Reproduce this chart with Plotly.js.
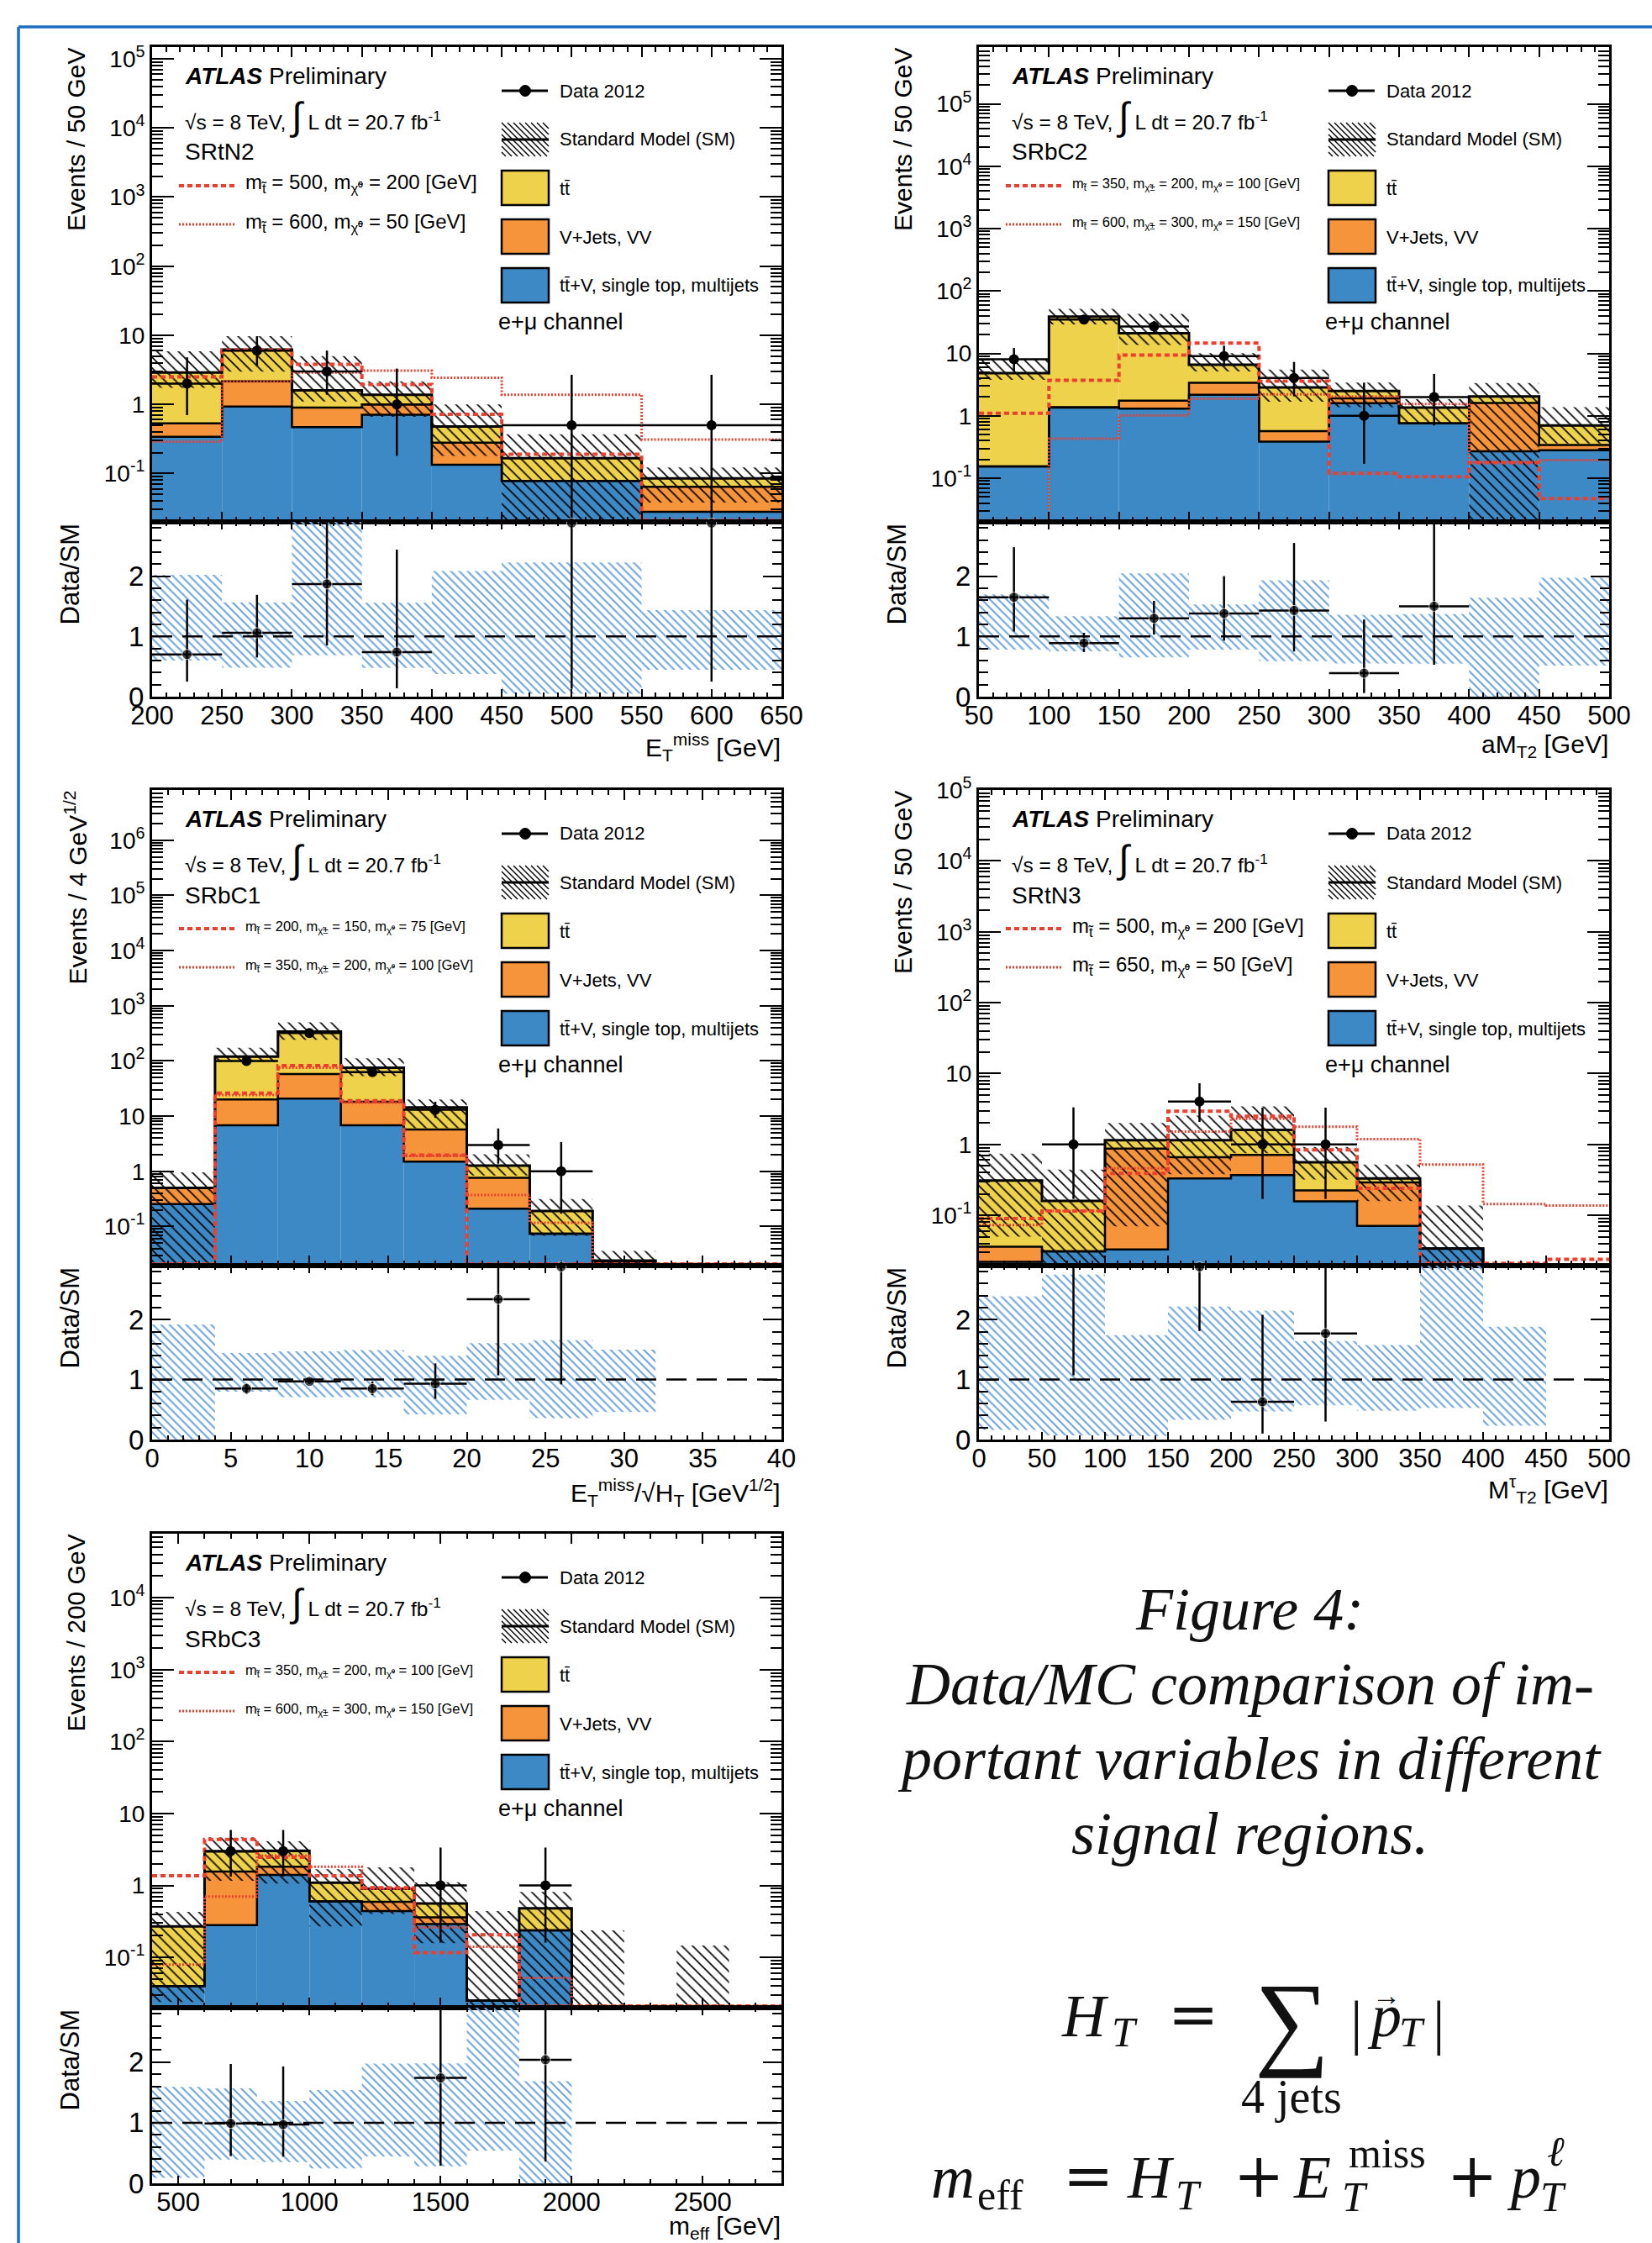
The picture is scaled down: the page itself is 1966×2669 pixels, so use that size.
<!DOCTYPE html>
<html><head><meta charset="utf-8">
<script src="https://cdn.plot.ly/plotly-3.0.1.min.js"></script>
<style>html,body{margin:0;padding:0;background:#fff}</style>
</head><body><div id="chart" style="width:1966px;height:2669px"></div>
<script>
// ---------------- DATA ----------------
const logTickVals=[0.1,1,10,100,1000,1e4,1e5,1e6];
const logTickText=['10<sup>-1</sup>','1','10','10<sup>2</sup>','10<sup>3</sup>','10<sup>4</sup>','10<sup>5</sup>','10<sup>6</sup>'];
const ratioTickVals=[0,1,2];
const ratioTickText=['0','1','2'];

// SRtN2 : ETmiss
const tn2_edges=[200,250,300,350,400,450,550,650];
const tn2_ttV=[0.34,0.93,0.47,0.71,0.134,0.078,0.028];
const tn2_vj=[0.19,1.23,0.43,0.29,0.146,0,0.036];
const tn2_tt=[2.37,4.04,0.70,0.38,0.20,0.088,0.021];
const tn2_smHi=[5.86,9.7,4.98,2.15,1.0,0.37,0.122];
const tn2_smLo=[1.74,2.98,1.10,0.66,0.18,0.008,0.038];
const tn2_sig1=[2.5,6.1,3.8,1.94,0.72,0.19,0.021];
const tn2_sig2=[0.29,2.16,2.9,3.08,2.43,1.38,0.31];
const tn2_dataX=[225,275,325,375,500,600];
const tn2_data=[2,6,3,1,0.5,0.5];
const tn2_dataHi=[4.8,9.7,6.0,3.3,2.68,2.68];
const tn2_dataLo=[0.70,3.6,1.38,0.18,0,0];
const tn2_ratio=[0.70,1.06,1.87,0.74,2.88,2.88];
const tn2_ratioHi=[1.61,1.69,2.9,2.44,2.9,2.9];
const tn2_ratioLo=[0.25,0.65,0.85,0.14,0.13,0.25];

// SRbC2 : aMT2
const bc2_edges=[50,100,150,200,250,300,350,400,450,500];
const bc2_ttV=[0.154,1.35,1.30,2.17,0.385,1.6,0.76,0.27,0.28];
const bc2_vj=[0,0.03,0.45,1.2,0.185,0.3,0,1.34,0.06];
const bc2_tt=[4.68,37.6,19.25,3.23,2.28,0.6,0.59,0.43,0.36];
const bc2_smHi=[8.2,52,43,10.1,5.5,3.4,1.85,3.35,1.38];
const bc2_smLo=[3.77,29.3,13.7,5.15,1.68,1.38,0.74,0.001,0.36];
const bc2_sig1=[1.1,3.7,9.4,14.6,3.6,0.12,0.106,0.177,0.047];
const bc2_sig2=[0.021,0.43,1.02,1.88,2.2,2.04,1.55,0.18,0.195];
const bc2_dataX=[75,125,175,225,275,325,375];
const bc2_data=[8.06,35,27,9.08,4.04,1.0,2.0];
const bc2_dataHi=[12.2,41,33,13.3,7.3,3.4,4.7];
const bc2_dataLo=[5.1,29.3,21.7,6.2,2.05,0.17,0.70];
const bc2_ratio=[1.65,0.89,1.30,1.38,1.43,0.39,1.50];
const bc2_ratioHi=[2.48,1.06,1.59,2.0,2.55,1.28,2.9];
const bc2_ratioLo=[1.08,0.74,1.03,0.93,0.75,0.06,0.53];

// SRbC1 : ETmiss/sqrt(HT)
const bc1_edges=[0,4,8,12,16,20,24,28,32,36,40];
const bc1_ttV=[0.254,6.8,20.8,6.8,1.5,0.21,0.074,0.022,0,0];
const bc1_vj=[0.246,13.2,37.2,11.4,4.2,0.55,0,0,0,0];
const bc1_tt=[0,100,282,56.8,8.6,0.51,0.116,0.002,0,0];
const bc1_smHi=[0.96,173,500,112,20,2.04,0.315,0.036,0,0];
const bc1_smLo=[0.001,96,241,53,6.0,0.84,0.068,0.011,0,0];
const bc1_sig1=[0.021,26,82,19,1.96,0.021,0.021,0.021,0.021,0.021];
const bc1_sig2=[0.021,24,75,17.5,1.9,0.37,0.117,0.021,0.021,0.021];
const bc1_dataX=[6,10,14,18,22,26];
const bc1_data=[100,321,62.5,13,3,1];
const bc1_dataHi=[110,339,70.5,18.2,5.97,3.39];
const bc1_dataLo=[90,303,54.5,9.3,1.37,0.17];
const bc1_ratio=[0.85,0.97,0.85,0.93,2.34,2.88];
const bc1_ratioHi=[0.94,1.01,0.97,1.27,2.9,2.9];
const bc1_ratioLo=[0.76,0.93,0.74,0.68,1.07,0.92];

// SRtN3 : MT2 tau
const tn3_edges=[0,50,100,150,200,250,300,350,400,450,500];
const tn3_ttV=[0.022,0.031,0.033,0.33,0.37,0.157,0.071,0.034,0.01,0];
const tn3_vj=[0.014,0,0.837,0.33,0.34,0.067,0.219,0,0,0];
const tn3_tt=[0.274,0.129,0.28,0.49,0.89,0.336,0.04,0,0,0];
const tn3_smHi=[0.74,0.44,2.0,2.55,3.44,0.92,0.52,0.137,0.0188,0];
const tn3_smLo=[0.05,0.011,0.07,0.38,0.75,0.32,0.158,0.018,0.0023,0];
const tn3_sig1=[0.09,0.115,0.39,2.94,2.5,0.84,0.24,0.021,0.021,0.024];
const tn3_sig2=[0.073,0.115,0.46,1.52,2.3,1.78,1.19,0.52,0.144,0.137];
const tn3_dataX=[75,175,225,275];
const tn3_data=[1,4.02,1,1];
const tn3_dataHi=[3.33,7.3,3.3,3.3];
const tn3_dataLo=[0.17,2.08,0.17,0.17];
const tn3_ratio=[2.9,2.88,0.63,1.77];
const tn3_ratioHi=[2.9,2.9,2.08,2.9];
const tn3_ratioLo=[1.07,1.81,0.10,0.30];

// SRbC3 : meff
const bc3_edges=[400,600,800,1000,1200,1400,1600,1800,2000,2200,2400,2600,2800];
const bc3_ttV=[0.040,0.28,1.40,0.60,0.44,0.29,0.025,0.237,0,0,0,0];
const bc3_vj=[0,1.28,0.42,0,0.15,0.07,0,0,0,0,0,0];
const bc3_tt=[0.23,1.41,1.21,0.49,0.31,0.20,0,0.243,0,0,0,0];
const bc3_smHi=[0.43,4.66,4.12,1.68,1.78,1.11,0.44,0.81,0.237,0,0.146,0];
const bc3_smLo=[0.024,1.16,1.06,0.27,0.40,0.157,0.0135,0.001,0.001,0,0.001,0];
const bc3_sig1=[1.36,4.35,2.47,1.36,0.93,0.116,0.206,0.021,0.021,0.021,0.021,0.021];
const bc3_sig2=[0.079,0.70,2.6,1.82,0.90,0.26,0.14,0.052,0.021,0.021,0.021,0.021];
const bc3_dataX=[700,900,1500,1900];
const bc3_data=[3,3,1,1];
const bc3_dataHi=[5.9,5.9,3.36,3.36];
const bc3_dataLo=[1.33,1.33,0.16,0.16];
const bc3_ratio=[0.99,0.97,1.74,2.04];
const bc3_ratioHi=[1.97,1.93,2.9,2.9];
const bc3_ratioLo=[0.45,0.44,0.29,0.36];

// ---------------- STYLE / LAYOUT ----------------
const W=1966,H=2669;
const FONT='Liberation Sans, Arial, Helvetica, sans-serif';
const SERIF='Liberation Serif, Times New Roman, serif';
const MATHOP='DejaVu Serif, Liberation Serif, serif';
const C_BLUE='#3d89c5', C_ORANGE='#f5943b', C_YELLOW='#efd24b', C_RED='#ec3f2e', C_RBAND='#6ea6dc';

const panels=[
 {e:tn2_edges,ttV:tn2_ttV,vj:tn2_vj,tt:tn2_tt,smHi:tn2_smHi,smLo:tn2_smLo,s1:tn2_sig1,s2:tn2_sig2,
  dx:tn2_dataX,dy:tn2_data,dhi:tn2_dataHi,dlo:tn2_dataLo,ry:tn2_ratio,rhi:tn2_ratioHi,rlo:tn2_ratioLo,rhide:[],
  x0:181,x1:930,yT:56,yM:621,yB:829,ylog:[-1.70,5.17],xr:[200,650],xdt:50,xmn:10,xtOff:60,
  ytitle:'Events / 50 GeV',xtitle:'E<sub>T</sub><sup>miss</sup> [GeV]',region:'SRtN2',sigSize:24,
  sigLab:['m<sub>t̃</sub> = 500, m<sub>χ̃⁰</sub> = 200 [GeV]','m<sub>t̃</sub> = 600, m<sub>χ̃⁰</sub> = 50 [GeV]']},
 {e:bc2_edges,ttV:bc2_ttV,vj:bc2_vj,tt:bc2_tt,smHi:bc2_smHi,smLo:bc2_smLo,s1:bc2_sig1,s2:bc2_sig2,
  dx:bc2_dataX,dy:bc2_data,dhi:bc2_dataHi,dlo:bc2_dataLo,ry:bc2_ratio,rhi:bc2_ratioHi,rlo:bc2_ratioLo,rhide:[],
  x0:1165,x1:1915,yT:56,yM:621,yB:829,ylog:[-1.70,5.91],xr:[50,500],xdt:50,xmn:10,xtOff:58,
  ytitle:'Events / 50 GeV',xtitle:'aM<sub>T2</sub> [GeV]',region:'SRbC2',sigSize:16.5,
  sigLab:['m<sub>t̃</sub> = 350, m<sub>χ̃±</sub> = 200, m<sub>χ̃⁰</sub> = 100 [GeV]','m<sub>t̃</sub> = 600, m<sub>χ̃±</sub> = 300, m<sub>χ̃⁰</sub> = 150 [GeV]']},
 {e:bc1_edges,ttV:bc1_ttV,vj:bc1_vj,tt:bc1_tt,smHi:bc1_smHi,smLo:bc1_smLo,s1:bc1_sig1,s2:bc1_sig2,
  dx:bc1_dataX,dy:bc1_data,dhi:bc1_dataHi,dlo:bc1_dataLo,ry:bc1_ratio,rhi:bc1_ratioHi,rlo:bc1_ratioLo,rhide:[],
  x0:181,x1:930,yT:940,yM:1506,yB:1713,ylog:[-1.71,6.91],xr:[0,40],xdt:5,xmn:1,xtOff:63,
  ytitle:'Events / 4 GeV<sup>1/2</sup>',xtitle:'E<sub>T</sub><sup>miss</sup>/√H<sub>T</sub> [GeV<sup>1/2</sup>]',region:'SRbC1',sigSize:16.5,
  sigLab:['m<sub>t̃</sub> = 200, m<sub>χ̃±</sub> = 150, m<sub>χ̃⁰</sub> = 75 [GeV]','m<sub>t̃</sub> = 350, m<sub>χ̃±</sub> = 200, m<sub>χ̃⁰</sub> = 100 [GeV]']},
 {e:tn3_edges,ttV:tn3_ttV,vj:tn3_vj,tt:tn3_tt,smHi:tn3_smHi,smLo:tn3_smLo,s1:tn3_sig1,s2:tn3_sig2,
  dx:tn3_dataX,dy:tn3_data,dhi:tn3_dataHi,dlo:tn3_dataLo,ry:tn3_ratio,rhi:tn3_ratioHi,rlo:tn3_ratioLo,rhide:[0],
  x0:1165,x1:1915,yT:940,yM:1506,yB:1713,ylog:[-1.71,5.0],xr:[0,500],xdt:50,xmn:10,xtOff:59,
  ytitle:'Events / 50 GeV',xtitle:'M<sup>τ</sup><sub>T2</sub> [GeV]',region:'SRtN3',sigSize:24,
  sigLab:['m<sub>t̃</sub> = 500, m<sub>χ̃⁰</sub> = 200 [GeV]','m<sub>t̃</sub> = 650, m<sub>χ̃⁰</sub> = 50 [GeV]']},
 {e:bc3_edges,ttV:bc3_ttV,vj:bc3_vj,tt:bc3_tt,smHi:bc3_smHi,smLo:bc3_smLo,s1:bc3_sig1,s2:bc3_sig2,
  dx:bc3_dataX,dy:bc3_data,dhi:bc3_dataHi,dlo:bc3_dataLo,ry:bc3_ratio,rhi:bc3_ratioHi,rlo:bc3_ratioLo,rhide:[],
  x0:181,x1:930,yT:1825,yM:2389,yB:2598,ylog:[-1.70,4.89],xr:[400,2800],xdt:500,xmn:100,xtOff:52,
  ytitle:'Events / 200 GeV',xtitle:'m<sub>eff</sub> [GeV]',region:'SRbC3',sigSize:16.5,
  sigLab:['m<sub>t̃</sub> = 350, m<sub>χ̃±</sub> = 200, m<sub>χ̃⁰</sub> = 100 [GeV]','m<sub>t̃</sub> = 600, m<sub>χ̃±</sub> = 300, m<sub>χ̃⁰</sub> = 150 [GeV]']}
];

const fx=x=>x/W, fy=y=>1-y/H;
const axn=n=>n===1?'':String(n);
const FLOOR=1e-4;
const traces=[];
const layout={width:W,height:H,margin:{l:0,r:0,t:0,b:0},paper_bgcolor:'#fff',plot_bgcolor:'rgba(0,0,0,0)',
  showlegend:false,barmode:'overlay',shapes:[],annotations:[],hovermode:false};

function ann(text,x,y,o){
  layout.annotations.push(Object.assign({text:text,x:fx(x),y:fy(y),xref:'paper',yref:'paper',showarrow:false,
    xanchor:'left',yanchor:'middle',borderpad:0,font:{family:FONT,size:22,color:'#000'}},o||{}));
}
function pline(x0,y0,x1,y1,line){
  layout.shapes.push({type:'line',xref:'paper',yref:'paper',x0:fx(x0),y0:fy(y0),x1:fx(x1),y1:fy(y1),line:line});
}
function prect(x0,y0,x1,y1,fill,lw){
  layout.shapes.push({type:'rect',xref:'paper',yref:'paper',x0:fx(x0),y0:fy(y0),x1:fx(x1),y1:fy(y1),
    fillcolor:fill,line:{color:'#000',width:lw}});
}
function hatchBox(xa,ya,xb,yb,sp){
  for(let c=ya-xb;c<=yb-xa;c+=sp){
    const s=Math.max(xa,ya-c), t=Math.min(xb,yb-c);
    if(t>s) pline(s,s+c,t,t+c,{color:'#000',width:1.4});
  }
}
function stepXY(edges,vals){
  const y=vals.map(v=>Math.max(v,FLOOR)); y.push(y[y.length-1]);
  return {x:edges.slice(),y:y};
}
const SIG1={color:C_RED,width:4,dash:'6px,4px'};
const SIG2={color:C_RED,width:3,dash:'2px,2px'};
function minorLog(r){
  const out=[];
  for(let e=Math.floor(r[0]);e<=Math.ceil(r[1]);e++) for(let m=2;m<=9;m++) out.push(m*Math.pow(10,e));
  return out;
}

panels.forEach((p,i)=>{
  const km=2*i+1,kr=2*i+2;
  const xm='x'+axn(km),ym='y'+axn(km),xr='x'+axn(kr),yr='y'+axn(kr);
  const n=p.e.length-1, ctr=[], wid=[];
  for(let j=0;j<n;j++){ctr.push((p.e[j]+p.e[j+1])/2); wid.push(p.e[j+1]-p.e[j]);}
  const c1=p.ttV.slice(), c2=c1.map((v,j)=>v+p.vj[j]), c3=c2.map((v,j)=>v+p.tt[j]);

  const xcommon={domain:[fx(p.x0),fx(p.x1)],range:p.xr,showgrid:false,zeroline:false,showline:true,linewidth:3,
    linecolor:'#000',mirror:'allticks',ticks:'inside',tickwidth:2,tickcolor:'#000',dtick:p.xdt,tick0:0};
  layout['xaxis'+axn(km)]=Object.assign({},xcommon,{anchor:ym,showticklabels:false,ticklen:12,
    minor:{ticks:'inside',ticklen:6,tickwidth:2,tickcolor:'#000',dtick:p.xmn,tick0:0}});
  layout['xaxis'+axn(kr)]=Object.assign({},xcommon,{anchor:yr,ticklen:9,ticklabelstandoff:-7,
    tickfont:{family:FONT,size:31,color:'#000'},
    minor:{ticks:'inside',ticklen:5,tickwidth:2,tickcolor:'#000',dtick:p.xmn,tick0:0}});
  layout['yaxis'+axn(km)]={domain:[fy(p.yM),fy(p.yT)],anchor:xm,type:'log',range:p.ylog,showgrid:false,zeroline:false,
    showline:true,linewidth:3,linecolor:'#000',mirror:'allticks',ticks:'inside',ticklen:26,tickwidth:2,tickcolor:'#000',
    tickmode:'array',tickvals:logTickVals,ticktext:logTickText,tickfont:{family:FONT,size:28,color:'#000'},
    minor:{ticks:'inside',ticklen:13,tickwidth:2,tickcolor:'#000',tickmode:'array',tickvals:minorLog(p.ylog)}};
  layout['yaxis'+axn(kr)]={domain:[fy(p.yB),fy(p.yM)],anchor:xr,range:[0,2.9],showgrid:false,zeroline:false,
    showline:true,linewidth:3,linecolor:'#000',mirror:'allticks',ticks:'inside',ticklen:22,tickwidth:2,tickcolor:'#000',
    tickmode:'array',tickvals:ratioTickVals,ticktext:ratioTickText,tickfont:{family:FONT,size:33,color:'#000'},
    minor:{ticks:'inside',ticklen:11,tickwidth:2,tickcolor:'#000',dtick:0.2,tick0:0}};

  const bar=(base,y,color)=>({type:'bar',x:ctr,width:wid,base:base.map(b=>Math.max(b,FLOOR)),y:y,xaxis:xm,yaxis:ym,
    marker:{color:color,line:{width:0}},hoverinfo:'skip'});
  traces.push(bar(c1.map(()=>FLOOR),p.ttV,C_BLUE));
  traces.push(bar(c1,p.vj,C_ORANGE));
  traces.push(bar(c2,p.tt,C_YELLOW));
  const bb=p.smLo.map(v=>Math.max(v,FLOOR));
  traces.push({type:'bar',x:ctr,width:wid,base:bb,y:p.smHi.map((h,j)=>h>0?h-bb[j]:0),xaxis:xm,yaxis:ym,hoverinfo:'skip',
    marker:{color:'rgba(0,0,0,0)',line:{width:0},pattern:{shape:'\\',fgcolor:'#000',bgcolor:'rgba(0,0,0,0)',size:9,solidity:0.18}}});
  [[c1,2.5],[c2,2.5],[c3,3]].forEach(([v,w])=>{
    const s=stepXY(p.e,v);
    traces.push({type:'scatter',mode:'lines',x:s.x,y:s.y,xaxis:xm,yaxis:ym,line:{shape:'hv',color:'#000',width:w},hoverinfo:'skip'});
  });
  const s2=stepXY(p.e,p.s2), s1=stepXY(p.e,p.s1);
  traces.push({type:'scatter',mode:'lines',x:s2.x,y:s2.y,xaxis:xm,yaxis:ym,line:Object.assign({shape:'hv'},SIG2)});
  traces.push({type:'scatter',mode:'lines',x:s1.x,y:s1.y,xaxis:xm,yaxis:ym,line:Object.assign({shape:'hv'},SIG1)});
  const hw=p.dx.map(x=>{for(let j=0;j<n;j++){if(x>=p.e[j]&&x<p.e[j+1]) return wid[j]/2;} return 0;});
  traces.push({type:'scatter',mode:'markers',x:p.dx,y:p.dy,xaxis:xm,yaxis:ym,marker:{color:'#000',size:12},
    error_y:{type:'data',symmetric:false,array:p.dhi.map((h,j)=>h-p.dy[j]),arrayminus:p.dy.map((v,j)=>v-Math.max(p.dlo[j],FLOOR)),
      color:'#000',thickness:2.5,width:0},
    error_x:{type:'data',array:hw,color:'#000',thickness:2.5,width:0}});

  const rb=[],rh=[];
  for(let j=0;j<n;j++){
    if(c3[j]>0&&p.smHi[j]>0){const b=p.smLo[j]/c3[j]; rb.push(b); rh.push(p.smHi[j]/c3[j]-b);} else {rb.push(0); rh.push(0);}
  }
  traces.push({type:'bar',x:ctr,width:wid,base:rb,y:rh,xaxis:xr,yaxis:yr,hoverinfo:'skip',
    marker:{color:'rgba(0,0,0,0)',line:{width:0},pattern:{shape:'\\',fgcolor:C_RBAND,bgcolor:'rgba(0,0,0,0)',size:7,solidity:0.3}}});
  layout.shapes.push({type:'line',xref:xr+' domain',yref:yr,x0:0,x1:1,y0:1,y1:1,line:{color:'#000',width:2.5,dash:'24px,12px'}});
  traces.push({type:'scatter',mode:'markers',x:p.dx,y:p.ry,xaxis:xr,yaxis:yr,cliponaxis:false,
    marker:{color:'#000',size:p.ry.map((_,j)=>p.rhide.includes(j)?0:12)},
    error_y:{type:'data',symmetric:false,array:p.rhi.map((h,j)=>h-p.ry[j]),arrayminus:p.ry.map((v,j)=>v-p.rlo[j]),color:'#000',thickness:2.5,width:0},
    error_x:{type:'data',array:hw,color:'#000',thickness:2.5,width:0}});

  // axis titles
  ann(p.ytitle,p.x0-91,p.yT,{textangle:-90,xanchor:'center',yanchor:'top',font:{family:FONT,size:30,color:'#000'}});
  ann('Data/SM',p.x0-98,p.yM+1,{textangle:-90,xanchor:'center',yanchor:'top',font:{family:FONT,size:31,color:'#000'}});
  ann(p.xtitle,p.x1,p.yB+p.xtOff,{xanchor:'right',font:{family:FONT,size:30,color:'#000'}});

  // legend / labels
  const ox=p.x0, oy=p.yT;
  ann('<b><i>ATLAS</i></b> Preliminary',ox+38,oy+34,{font:{family:FONT,size:28,color:'#000'}});
  ann('√s = 8 TeV, <span style="font-size:46px">∫</span> L dt = 20.7 fb<sup>-1</sup>',ox+38,oy+82,{font:{family:FONT,size:24.5,color:'#000'}});
  ann(p.region,ox+38,oy+125,{font:{family:FONT,size:28,color:'#000'}});
  pline(ox+32,oy+165,ox+98,oy+165,SIG1);
  ann(p.sigLab[0],ox+110,oy+163,{font:{family:FONT,size:p.sigSize,color:'#000'}});
  pline(ox+32,oy+211,ox+98,oy+211,SIG2);
  ann(p.sigLab[1],ox+110,oy+209,{font:{family:FONT,size:p.sigSize,color:'#000'}});
  pline(ox+416,oy+52,ox+471,oy+52,{color:'#000',width:3});
  layout.shapes.push({type:'circle',xref:'paper',yref:'paper',x0:fx(ox+437.5),x1:fx(ox+450.5),y0:fy(oy+45.5),y1:fy(oy+58.5),fillcolor:'#000',line:{color:'#000',width:1}});
  ann('Data 2012',ox+484,oy+52);
  hatchBox(ox+416,oy+90,ox+472,oy+130,7);
  pline(ox+416,oy+110,ox+472,oy+110,{color:'#000',width:3});
  ann('Standard Model (SM)',ox+484,oy+110);
  prect(ox+416,oy+147,ox+472,oy+188,C_YELLOW,2.5);
  ann('tt̄',ox+484,oy+168);
  prect(ox+416,oy+205,ox+472,oy+246,C_ORANGE,2.5);
  ann('V+Jets, VV',ox+484,oy+226);
  prect(ox+416,oy+263,ox+472,oy+304,C_BLUE,2.5);
  ann('tt̄+V, single top, multijets',ox+484,oy+284);
  ann('e+μ channel',ox+411,oy+327,{font:{family:FONT,size:27,color:'#000'}});
});

// blue page frame
pline(22,32,W,32,{color:'#1e6ec0',width:3.5});
pline(22,32,22,H,{color:'#1e6ec0',width:3.5});

// caption (baselines 1938, 2027, 2116, 2205)
const capLines=['Figure 4:','Data/MC comparison of im-','portant variables in different','signal regions.'];
const capBase=[1938,2027,2116,2205];
const CAPF=72;
capLines.forEach((t,k)=>ann('<i>'+t+'</i>',1487,capBase[k]-0.891*CAPF,{xanchor:'center',yanchor:'top',font:{family:SERIF,size:CAPF,color:'#111'}}));

// equations
const EQF=72, SUBF=50;
function eqPiece(text,x,base,size,o){ ann(text,x,base-0.891*size,Object.assign({yanchor:'top',font:{family:SERIF,size:size,color:'#111'}},o||{})); }
function eqOp(text,xc,base){ ann(text,xc,base-25,{xanchor:'center',yanchor:'middle',font:{family:MATHOP,size:EQF,color:'#111'}}); }
// H_T = sum_{4 jets} |p_T|
const B1=2422;
eqPiece('<i>H</i>',1262,B1,EQF);
eqPiece('<i>T</i>',1322,B1+12,SUBF);
eqOp('=',1420,B1);
ann('∑',1537,2404,{xanchor:'center',yanchor:'middle',font:{family:SERIF,size:125,color:'#111'}});
eqPiece('|',1606,B1+8,EQF);
eqPiece('<i>p</i>',1626,B1,EQF);
ann('→',1650,2374,{xanchor:'center',yanchor:'middle',font:{family:SERIF,size:34,color:'#111'}});
eqPiece('<i>T</i>',1664,B1+12,SUBF);
eqPiece('|',1704,B1+8,EQF);
eqPiece('4 jets',1537,2513,56,{xanchor:'center'});
// m_eff = H_T + E_T^miss + p_T^l
const B2=2614;
eqPiece('<i>m</i>',1107,B2,EQF);
eqPiece('eff',1162,B2+14,SUBF);
eqOp('=',1295,B2);
eqPiece('<i>H</i>',1340,B2,EQF);
eqPiece('<i>T</i>',1398,B2+14,SUBF);
eqOp('+',1498,B2);
eqPiece('<i>E</i>',1538,B2,EQF);
eqPiece('miss',1604,B2-36,SUBF);
eqPiece('<i>T</i>',1596,B2+16,SUBF);
eqOp('+',1752,B2);
eqPiece('<i>p</i>',1792,B2,EQF);
eqPiece('<i>ℓ</i>',1840,B2-38,SUBF);
eqPiece('<i>T</i>',1832,B2+16,SUBF);

Plotly.newPlot('chart',traces,layout,{staticPlot:true,displayModeBar:false});
</script></body></html>
